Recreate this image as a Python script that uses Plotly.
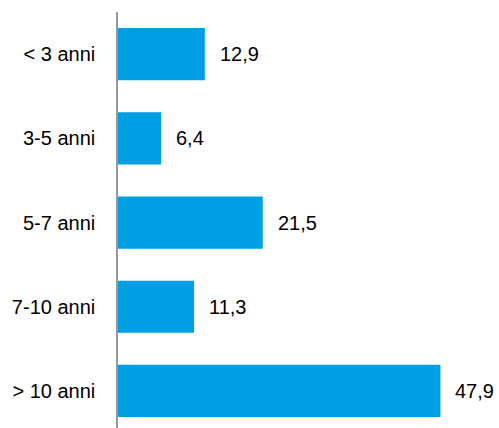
import plotly.graph_objects as go

categories = ["< 3 anni", "3-5 anni", "5-7 anni", "7-10 anni", "> 10 anni"]
values = [12.9, 6.4, 21.5, 11.3, 47.9]
value_labels = [f"{v:.1f}".replace(".", ",") for v in values]

BAR_COLOR = "#009FE3"
FONT = dict(family="Liberation Sans, Arial, sans-serif", size=20, color="#000000")

fig = go.Figure()
fig.add_trace(go.Bar(
    y=categories,
    x=values,
    orientation="h",
    marker=dict(color=BAR_COLOR, line=dict(width=0)),
    width=0.62,
    hoverinfo="skip",
))

for c, v, t in zip(categories, values, value_labels):
    fig.add_annotation(
        x=v, y=c, text=t, showarrow=False,
        xanchor="left", yanchor="middle", xshift=13,
        font=FONT,
    )

fig.update_layout(
    width=499, height=428,
    margin=dict(l=118, r=0, t=12, b=0),
    paper_bgcolor="white", plot_bgcolor="white",
    showlegend=False,
    font=FONT,
    bargap=0.38,
)
fig.update_xaxes(
    range=[0, 56.6], visible=False, showgrid=False, zeroline=False,
)
fig.update_yaxes(
    type="category",
    categoryorder="array", categoryarray=categories,
    range=[4.44, -0.5],
    showgrid=False, zeroline=False,
    showline=True, linecolor="#999999", linewidth=1.5,
    ticks="", ticklabelstandoff=17,
    tickfont=FONT,
)

fig.write_html("out.html")
